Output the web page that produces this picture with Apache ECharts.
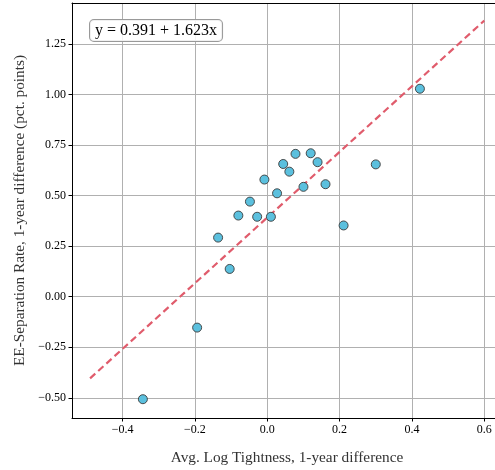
<!DOCTYPE html>
<html>
<head>
<meta charset="utf-8">
<script src="https://cdn.jsdelivr.net/npm/echarts@6/dist/echarts.min.js"></script>
<style>html,body{margin:0;padding:0;background:#fff;overflow:hidden}#c{width:502px;height:470px}</style>
</head>
<body>
<div id="c"></div>
<script>
const xVals = [0.422, 0.078, 0.120, 0.044, 0.139, 0.061, 0.300, -0.008, 0.161, 0.100, 0.027, -0.048, -0.028, 0.010, 0.211, -0.080, -0.136, -0.104, -0.194, -0.344];
const yVals = [1.028, 0.706, 0.709, 0.656, 0.665, 0.618, 0.654, 0.579, 0.556, 0.543, 0.511, 0.470, 0.395, 0.395, 0.352, 0.401, 0.292, 0.137, -0.153, -0.507];
const fitX = [-0.49, 0.60];
const fitY = [-0.404, 1.365];
const xTicks = [-0.4, -0.2, 0.0, 0.2, 0.4, 0.6];
const yTicks = [-0.5, -0.25, 0.0, 0.25, 0.5, 0.75, 1.0, 1.25];
const eqText = 'y = 0.391 + 1.623x';

const font = 'Liberation Serif, Times New Roman, serif';
const fmt = (v, d) => (v < 0 ? '\u2212' : '') + Math.abs(v).toFixed(d);

const chart = echarts.init(document.getElementById('c'), null, {renderer: 'canvas'});
chart.setOption({
  animation: false,
  grid: {left: 72, top: 3, right: 0, bottom: 48, containLabel: false},
  xAxis: [{
    type: 'value', min: -0.54, max: 0.649,
    name: 'Avg. Log Tightness, 1-year difference', nameLocation: 'middle', nameGap: 32,
    nameTextStyle: {fontFamily: font, fontSize: 15.3, color: '#333'},
    axisLine: {show: true, onZero: false, lineStyle: {color: '#000', width: 1}},
    axisTick: {show: true, length: 3.5, customValues: xTicks, lineStyle: {color: '#000'}},
    axisLabel: {customValues: xTicks, formatter: v => fmt(v, 1), fontFamily: font, fontSize: 12, color: '#000', margin: 6},
    splitLine: {show: true, lineStyle: {color: '#b0b0b0', width: 1}}
  }, {
    type: 'value', position: 'top', min: -0.54, max: 0.649,
    axisLine: {show: true, onZero: false, lineStyle: {color: '#000', width: 1}},
    axisTick: {show: false}, axisLabel: {show: false}, splitLine: {show: false}
  }],
  yAxis: [{
    type: 'value', min: -0.6, max: 1.452,
    name: 'EE-Separation Rate, 1-year difference (pct. points)', nameLocation: 'middle', nameGap: 45,
    nameTextStyle: {fontFamily: font, fontSize: 15.3, color: '#333'},
    axisLine: {show: true, onZero: false, lineStyle: {color: '#000', width: 1}},
    axisTick: {show: true, length: 3.5, customValues: yTicks, lineStyle: {color: '#000'}},
    axisLabel: {customValues: yTicks, formatter: v => fmt(v, 2), fontFamily: font, fontSize: 12, color: '#000', margin: 6},
    splitLine: {show: true, lineStyle: {color: '#b0b0b0', width: 1}}
  }],
  series: [{
    type: 'line',
    data: fitX.map((x, i) => [x, fitY[i]]),
    showSymbol: false, symbol: 'none',
    lineStyle: {color: '#e05c6c', width: 2.2, type: [7, 4]},
    z: 3
  }, {
    type: 'scatter',
    data: xVals.map((x, i) => [x, yVals[i]]),
    symbolSize: 9,
    itemStyle: {color: '#5bc0de', borderColor: '#3a3a3a', borderWidth: 0.9, opacity: 1},
    z: 4
  }],
  graphic: [{
    type: 'text', left: 89, top: 19, z: 100,
    style: {
      text: eqText, font: '16px ' + font, fill: '#000',
      backgroundColor: 'rgba(255,255,255,0.85)', borderColor: '#999', borderWidth: 1,
      borderRadius: 4, padding: [3, 5, 2, 5]
    }
  }]
});
</script>
</body>
</html>
